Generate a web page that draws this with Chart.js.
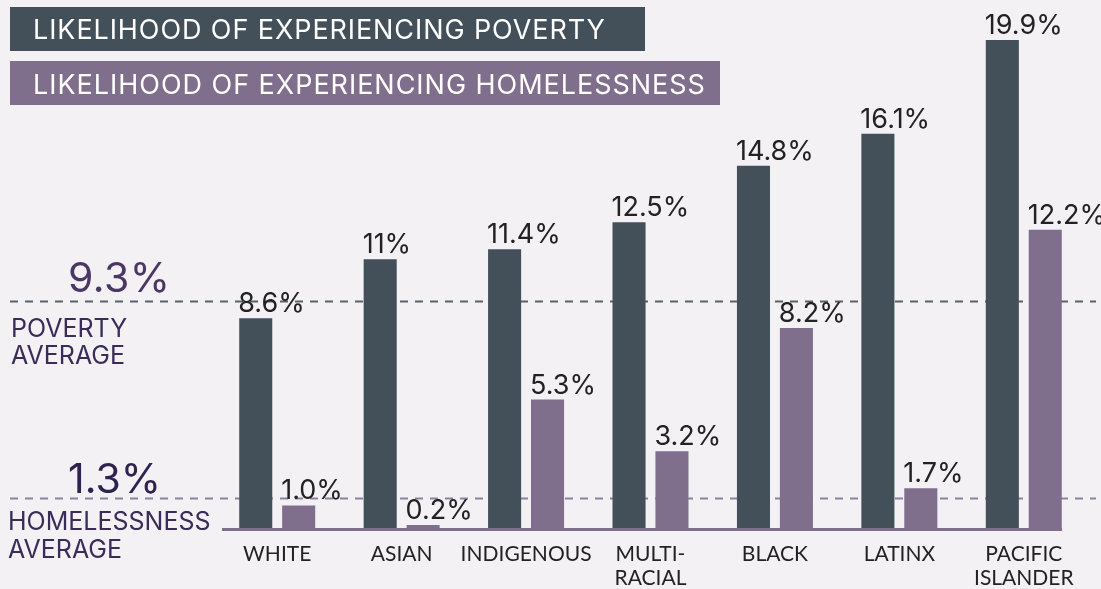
<!DOCTYPE html>
<html>
<head>
<meta charset="utf-8">
<script src="https://cdn.jsdelivr.net/npm/chart.js@4"></script>
<style>
  html, body { margin: 0; padding: 0; background: #f3f1f4; }
  #wrap { width: 1101px; height: 589px; position: relative; }
</style>
</head>
<body>
<div id="wrap"><canvas id="chart"></canvas></div>
<script>
// Poverty vs homelessness by race

const categories = [['WHITE'], ['ASIAN'], ['INDIGENOUS'], ['MULTI-', 'RACIAL'], ['BLACK'], ['LATINX'], ['PACIFIC', 'ISLANDER']];
const poverty = [8.6, 11, 11.4, 12.5, 14.8, 16.1, 19.9];
const homelessness = [1.0, 0.2, 5.3, 3.2, 8.2, 1.7, 12.2];
const povertyLabels = ['8.6%', '11%', '11.4%', '12.5%', '14.8%', '16.1%', '19.9%'];
const homelessLabels = ['1.0%', '0.2%', '5.3%', '3.2%', '8.2%', '1.7%', '12.2%'];
const legendTitles = ['LIKELIHOOD OF EXPERIENCING POVERTY', 'LIKELIHOOD OF EXPERIENCING HOMELESSNESS'];
const povertyAvg = 9.3;
const homelessAvg = 1.3;

const DARK = '#434f59';
const PURPLE = '#7f6e8c';
const FONT = 'Inter, "Noto Sans", sans-serif';

// stretch text to a given width with letter spacing (the original font is wider)
function fitText(ctx, text, x, y, width) {
  ctx.letterSpacing = '0px';
  const w0 = ctx.measureText(text).width;
  const sp = Math.max(0, (width - w0) / (text.length - 1));
  ctx.letterSpacing = sp.toFixed(2) + 'px';
  ctx.fillText(text, x, y);
  ctx.letterSpacing = '0px';
}

// dashed average lines, drawn behind the bars
const averageLines = {
  id: 'averageLines',
  beforeDatasetsDraw(chart) {
    const { ctx } = chart;
    const y = chart.scales.y;
    const lines = [[povertyAvg, '#59616a'], [homelessAvg, '#8f80a0']];
    ctx.save();
    ctx.lineWidth = 2;
    ctx.setLineDash([8, 7]);
    for (const [v, c] of lines) {
      const py = Math.round(y.getPixelForValue(v)) + 0.5;
      ctx.strokeStyle = c;
      ctx.beginPath();
      ctx.moveTo(10, py);
      ctx.lineTo(1096, py);
      ctx.stroke();
    }
    ctx.restore();
  }
};

// headers, axis line, value labels, category labels, side notes
const decorations = {
  id: 'decorations',
  beforeDraw(chart) {
    const { ctx } = chart;
    ctx.save();
    ctx.fillStyle = '#f3f1f4';
    ctx.fillRect(0, 0, chart.width, chart.height);
    ctx.restore();
  },
  afterDatasetsDraw(chart) {
    const { ctx } = chart;
    const x = chart.scales.x;
    const y = chart.scales.y;
    ctx.save();

    // baseline
    const base = y.getPixelForValue(0);
    ctx.fillStyle = PURPLE;
    ctx.fillRect(222, base - 2, 840, 3);

    // value labels, left aligned on each bar
    ctx.font = '400 27px ' + FONT;
    ctx.fillStyle = '#222222';
    ctx.textAlign = 'left';
    ctx.textBaseline = 'alphabetic';
    [[0, povertyLabels], [1, homelessLabels]].forEach(([di, labels]) => {
      chart.getDatasetMeta(di).data.forEach((bar, i) => {
        const left = bar.x - bar.width / 2;
        ctx.fillText(labels[i], left - 1, bar.y - 6);
      });
    });

    // category labels
    ctx.font = '400 21px Lato, ' + FONT;
    ctx.textAlign = 'center';
    ctx.fillStyle = '#222222';
    categories.forEach((lines, i) => {
      const cx = x.getPixelForValue(i);
      lines.forEach((t, j) => ctx.fillText(t, cx, 561 + j * 24));
    });

    // header boxes
    ctx.fillStyle = DARK;
    ctx.fillRect(10, 7, 635, 44);
    ctx.fillStyle = PURPLE;
    ctx.fillRect(10, 61, 710, 44);
    ctx.fillStyle = '#ffffff';
    ctx.textAlign = 'left';
    ctx.textBaseline = 'alphabetic';
    ctx.font = '400 27px ' + FONT;
    fitText(ctx, legendTitles[0], 33, 39, 572);
    fitText(ctx, legendTitles[1], 33, 94, 672);

    // side notes
    ctx.fillStyle = '#4a3763';
    ctx.font = '400 41px ' + FONT;
    fitText(ctx, povertyAvg + '%', 68, 292, 102);
    ctx.fillStyle = '#2f2250';
    fitText(ctx, homelessAvg + '%', 68, 493, 90);
    ctx.fillStyle = '#3a2b58';
    ctx.font = '400 25px ' + FONT;
    ctx.fillText('POVERTY', 11, 337);
    ctx.fillText('AVERAGE', 11, 364);
    ctx.fillText('HOMELESSNESS', 8, 530);
    ctx.fillText('AVERAGE', 8, 558);

    ctx.restore();
  }
};

new Chart(document.getElementById('chart'), {
  type: 'bar',
  data: {
    labels: categories,
    datasets: [
      { label: legendTitles[0], data: poverty, backgroundColor: DARK },
      { label: legendTitles[1], data: homelessness, backgroundColor: PURPLE },
    ]
  },
  options: {
    responsive: true,
    maintainAspectRatio: false,
    animation: false,
    devicePixelRatio: 1,
    layout: { padding: { left: 215, right: 15, top: 13, bottom: 59 } },
    datasets: { bar: { categoryPercentage: 0.69, barPercentage: 0.77 } },
    plugins: { legend: { display: false }, tooltip: { enabled: false } },
    scales: {
      x: { display: false },
      y: { display: false, min: 0, max: 21 }
    }
  },
  plugins: [averageLines, decorations]
});
</script>
</body>
</html>
